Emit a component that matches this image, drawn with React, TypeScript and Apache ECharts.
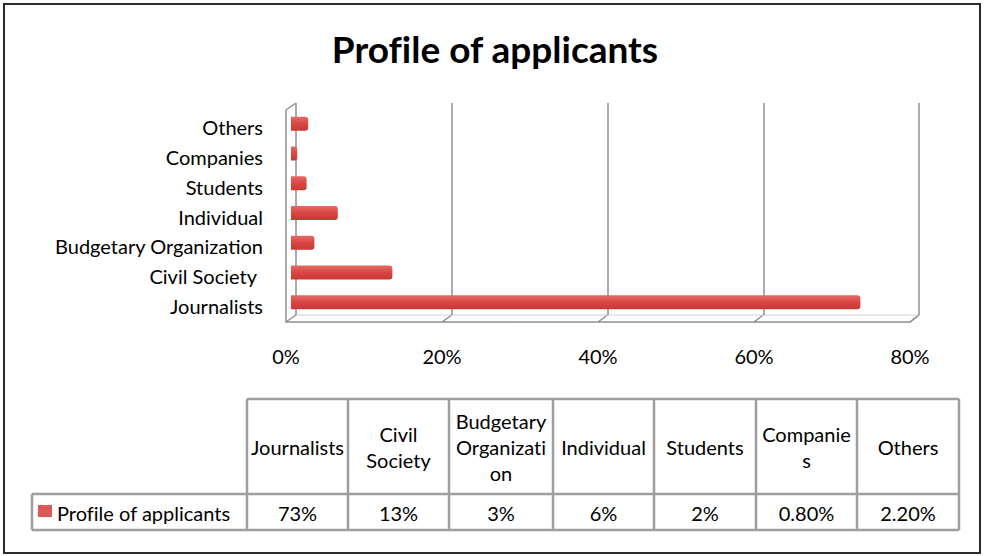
import React, { useEffect, useRef } from "react";
import * as echarts from "echarts";

// ---- data ----
const categories = [
  "Journalists",
  "Civil Society",
  "Budgetary Organization",
  "Individual",
  "Students",
  "Companies",
  "Others",
];
const values = [73, 13, 3, 6, 2, 0.8, 2.2];
const tableHeaders = [
  "Journalists",
  "Civil\nSociety",
  "Budgetary\nOrganizati\non",
  "Individual",
  "Students",
  "Companie\ns",
  "Others",
];
const tableValues = ["73%", "13%", "3%", "6%", "2%", "0.80%", "2.20%"];
const xTicks = [0, 20, 40, 60, 80];
const seriesName = "Profile of applicants";
const titleText = "Profile of applicants";

// ---- layout constants ----
const W = 984;
const H = 556;
const FONT = "Lato, 'Open Sans', sans-serif";
const FS = 20;
const BACK_L = 296;
const BACK_R = 919;
const BACK_T = 103;
const BACK_B = 315;
const DX = 10; // 3D depth offset
const DY = 7;
const FRONT_L = BACK_L - DX;
const FRONT_R = BACK_R - DX + 1;
const FRONT_B = BACK_B + DY;
const AX_MAX = 80;

const TBL_COLS = [247, 348, 449, 553, 654, 756, 857, 959];
const TBL_TOP = 399;
const TBL_MID = 494;
const TBL_BOT = 530;
const ROWLABEL_L = 32;
const GRID_C = "#9e9e9e";
const BAR_C = "#d94643";

function buildGraphics() {
  const els: any[] = [];
  // outer frame
  els.push({
    type: "rect",
    shape: { x: 4, y: 4, width: 976, height: 549 },
    style: { fill: "none", stroke: "#2b2b2b", lineWidth: 2 },
    silent: true,
  });
  // title
  els.push({
    type: "text",
    x: 495,
    y: 48,
    style: {
      text: titleText,
      fontSize: 37,
      fontWeight: "bold",
      fontFamily: FONT,
      fill: "#000",
      align: "center",
      verticalAlign: "middle",
      textAlign: "center",
      textVerticalAlign: "middle",
    },
  });
  const wall = { stroke: "#8f8f8f", lineWidth: 1.5 };
  const scaleBack = (v: number) => BACK_L + (v / AX_MAX) * (BACK_R - BACK_L);
  const scaleFront = (v: number) => FRONT_L + (v / AX_MAX) * (FRONT_R - FRONT_L);
  // left wall
  els.push({ type: "line", shape: { x1: FRONT_L, y1: BACK_T + DY, x2: FRONT_L, y2: FRONT_B }, style: wall, silent: true });
  els.push({ type: "line", shape: { x1: FRONT_L, y1: BACK_T + DY, x2: BACK_L, y2: BACK_T }, style: wall, silent: true });
  // right wall bottom diagonal
  els.push({ type: "line", shape: { x1: BACK_R, y1: BACK_B, x2: FRONT_R, y2: FRONT_B }, style: wall, silent: true });
  // floor diagonals
  xTicks.forEach((t) => {
    els.push({
      type: "line",
      shape: { x1: scaleBack(t), y1: BACK_B, x2: scaleFront(t), y2: FRONT_B },
      style: wall,
      silent: true,
    });
  });
  els.push({ type: "line", shape: { x1: BACK_L, y1: BACK_B, x2: BACK_R, y2: BACK_B }, style: { stroke: "#d0d0d0", lineWidth: 1 }, silent: true });

  // data table
  const line = { stroke: GRID_C, lineWidth: 2.5 };
  const c0 = TBL_COLS[0];
  const cN = TBL_COLS[TBL_COLS.length - 1];
  els.push({ type: "line", shape: { x1: c0, y1: TBL_TOP, x2: cN, y2: TBL_TOP }, style: line, silent: true });
  els.push({ type: "line", shape: { x1: ROWLABEL_L, y1: TBL_MID, x2: cN, y2: TBL_MID }, style: line, silent: true });
  els.push({ type: "line", shape: { x1: ROWLABEL_L, y1: TBL_BOT, x2: cN, y2: TBL_BOT }, style: line, silent: true });
  els.push({ type: "line", shape: { x1: ROWLABEL_L, y1: TBL_MID, x2: ROWLABEL_L, y2: TBL_BOT }, style: line, silent: true });
  TBL_COLS.forEach((x) => {
    els.push({ type: "line", shape: { x1: x, y1: TBL_TOP, x2: x, y2: TBL_BOT }, style: line, silent: true });
  });
  tableHeaders.forEach((h, i) => {
    const cx = (TBL_COLS[i] + TBL_COLS[i + 1]) / 2;
    els.push({
      type: "text",
      x: cx,
      y: (TBL_TOP + TBL_MID) / 2,
      style: {
        text: h,
        fontSize: FS,
        lineHeight: 26,
        fontFamily: FONT,
        fill: "#000",
        align: "center",
        verticalAlign: "middle",
        textAlign: "center",
        textVerticalAlign: "middle",
      },
    });
  });
  tableValues.forEach((v, i) => {
    const cx = (TBL_COLS[i] + TBL_COLS[i + 1]) / 2;
    els.push({
      type: "text",
      x: cx,
      y: (TBL_MID + TBL_BOT) / 2 + 1,
      style: {
        text: v,
        fontSize: FS,
        fontFamily: FONT,
        fill: "#000",
        align: "center",
        verticalAlign: "middle",
        textAlign: "center",
        textVerticalAlign: "middle",
      },
    });
  });
  // legend key in table
  els.push({
    type: "rect",
    shape: { x: 38, y: 505, width: 14, height: 12 },
    style: { fill: "#dc5a56" },
    silent: true,
  });
  els.push({
    type: "text",
    x: 57,
    y: (TBL_MID + TBL_BOT) / 2 + 1,
    style: {
      text: seriesName,
      fontSize: FS,
      fontFamily: FONT,
      fill: "#000",
      align: "left",
      verticalAlign: "middle",
      textAlign: "left",
      textVerticalAlign: "middle",
    },
  });
  return els;
}

export default function App() {
  const ref = useRef<HTMLDivElement>(null);
  useEffect(() => {
    if (!ref.current) return;
    const chart = echarts.init(ref.current, undefined, { renderer: "svg" });
    const option: any = {
      animation: false,
      backgroundColor: "#ffffff",
      grid: [
        // bars
        { left: 291, right: W - 915, top: 109, bottom: H - 317, containLabel: false },
        // back wall
        { left: BACK_L, right: W - BACK_R, top: BACK_T, bottom: H - BACK_B, containLabel: false },
        // front axis
        { left: FRONT_L, right: W - FRONT_R, top: BACK_T + DY, bottom: H - FRONT_B, containLabel: false },
      ],
      xAxis: [
        {
          gridIndex: 0,
          type: "value",
          min: 0,
          max: AX_MAX,
          interval: 20,
          axisLabel: { show: false },
          axisLine: { show: false },
          axisTick: { show: false },
          splitLine: { show: false },
        },
        {
          gridIndex: 1,
          type: "value",
          min: 0,
          max: AX_MAX,
          interval: 20,
          axisLabel: { show: false },
          axisLine: { show: false },
          axisTick: { show: false },
          splitLine: { show: true, lineStyle: { color: "#8f8f8f", width: 1.5 } },
        },
        {
          gridIndex: 2,
          type: "value",
          min: 0,
          max: AX_MAX,
          interval: 20,
          axisLabel: {
            show: true,
            formatter: "{value}%",
            fontSize: FS,
            fontFamily: FONT,
            color: "#000",
            margin: 24,
          },
          axisLine: { show: true, lineStyle: { color: "#8f8f8f", width: 1.5 } },
          axisTick: { show: false },
          splitLine: { show: false },
        },
      ],
      yAxis: [
        {
          gridIndex: 0,
          type: "category",
          data: categories,
          axisLine: { show: false },
          axisTick: { show: false },
          splitLine: { show: false },
          axisLabel: {
            show: true,
            fontSize: FS,
            fontFamily: FONT,
            color: "#000",
            margin: 28,
            padding: [7, 0, 0, 0],
            formatter: (v: string) => (v === "Civil Society" ? `{cs|${v}}` : v),
            rich: {
              cs: { fontSize: FS, fontFamily: FONT, color: "#000", padding: [0, 6, 0, 0] },
            },
          },
        },
        { gridIndex: 1, type: "value", show: false },
        { gridIndex: 2, type: "value", show: false },
      ],
      series: [
        {
          name: seriesName,
          type: "bar",
          xAxisIndex: 0,
          yAxisIndex: 0,
          data: values,
          barWidth: 14,
          itemStyle: {
            borderRadius: [0, 3, 3, 0],
            color: new echarts.graphic.LinearGradient(0, 0, 0, 1, [
              { offset: 0, color: "#e46a66" },
              { offset: 0.5, color: BAR_C },
              { offset: 1, color: "#c93835" },
            ]),
          },
        },
      ],
      graphic: buildGraphics(),
    };
    chart.setOption(option);
    return () => chart.dispose();
  }, []);
  return (
    <div
      ref={ref}
      style={{
        position: "fixed",
        left: 0,
        top: 0,
        width: W,
        height: H,
        background: "#fff",
        fontVariantLigatures: "none",
        fontFeatureSettings: '"liga" 0, "clig" 0',
      }}
    />
  );
}
